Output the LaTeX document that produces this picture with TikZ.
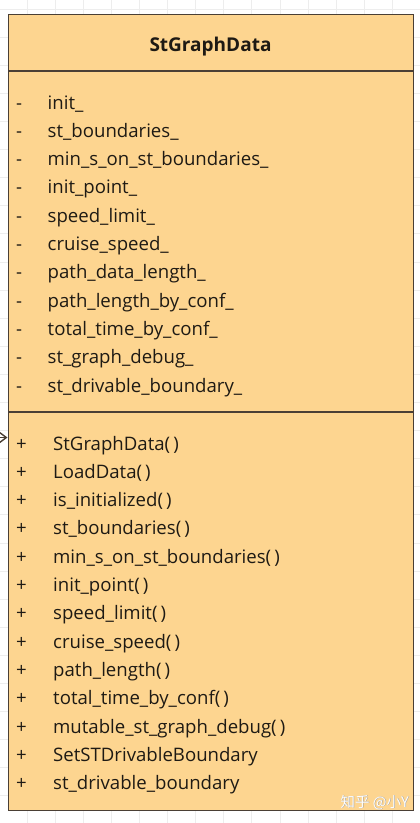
\documentclass[tikz,border=0pt]{standalone}
\usepackage{fontspec}
\setmainfont{Open Sans}
\newfontfamily\cjk{Noto Sans CJK SC}
\usetikzlibrary{arrows.meta}
\definecolor{fillc}{HTML}{FDD590}
\definecolor{linec}{HTML}{4A3F35}
\definecolor{gridc}{HTML}{EDEDED}
\definecolor{txtc}{HTML}{1E1A14}
\begin{document}
\begin{tikzpicture}[x=1pt,y=-1pt,
  txt/.style={anchor=base west,inner sep=0pt,text=txtc,font=\fontsize{18.6}{20}\selectfont},
  sym/.style={anchor=base,inner sep=0pt,text=txtc,font=\fontsize{18.6}{20}\selectfont},
  classbox/.style={draw=linec,line width=1.4pt,fill=fillc,anchor=north west,inner sep=0pt,minimum width=405pt,minimum height=796pt},
  sepline/.style={draw=linec,line width=1.4pt}]
\useasboundingbox (0,0) rectangle (420,823);
\fill[white] (0,0) rectangle (420,823);
\foreach \i in {0,...,15} \draw[gridc,line width=0.8pt] ({-1.1+28.1*\i},0) -- ++(0,823);
\foreach \j in {0,...,29} \draw[gridc,line width=0.8pt] (0,{9+28.1*\j}) -- ++(420,0);
\node[classbox] (box) at (8,14) {};
\node[anchor=base,inner sep=0pt,text=txtc,font=\fontsize{19}{21}\selectfont\bfseries] (title) at (210.5,51) {StGraphData};
\draw[sepline] (8,71) -- (413,71);
\draw[sepline] (8,412) -- (413,412);
% attributes
\foreach \t [count=\k from 0] in {init\_,st\_boundaries\_,min\_s\_on\_st\_boundaries\_,init\_point\_,speed\_limit\_,cruise\_speed\_,path\_data\_length\_,path\_length\_by\_conf\_,total\_time\_by\_conf\_,st\_graph\_debug\_,st\_drivable\_boundary\_}{
  \node[sym] (am\k) at (19,{109+28.3*\k}) {-};
  \node[txt] (a\k) at (47.5,{109+28.3*\k}) {\t};
}
% methods
\foreach \t [count=\k from 0] in {StGraphData(\,),LoadData(\,),is\_initialized(\,),st\_boundaries(\,),min\_s\_on\_st\_boundaries(\,),init\_point(\,),speed\_limit(\,),cruise\_speed(\,),path\_length(\,),total\_time\_by\_conf(\,),mutable\_st\_graph\_debug(\,),SetSTDrivableBoundary,st\_drivable\_boundary}{
  \node[sym] (mp\k) at (21.5,{450+28.33*\k}) {+};
  \node[txt] (m\k) at (53,{450+28.33*\k}) {\t};
}
% incoming arrow
\coordinate (src) at (-12,437.5);
\coordinate (tip) at (7.5,437.5);
\draw[linec,line width=1.4pt,-{Straight Barb[length=8pt,width=12pt]}] (src) -- (tip);
% watermark
\node[anchor=base east,inner sep=0pt,text=black!40,font=\cjk\fontsize{14.5}{16}\selectfont] (wms) at (409.6,807.6) {知乎 @小Y};
\node[anchor=base east,inner sep=0pt,text=white,font=\cjk\fontsize{14.5}{16}\selectfont] (wm) at (409,807) {知乎 @小Y};
\end{tikzpicture}
\end{document}
